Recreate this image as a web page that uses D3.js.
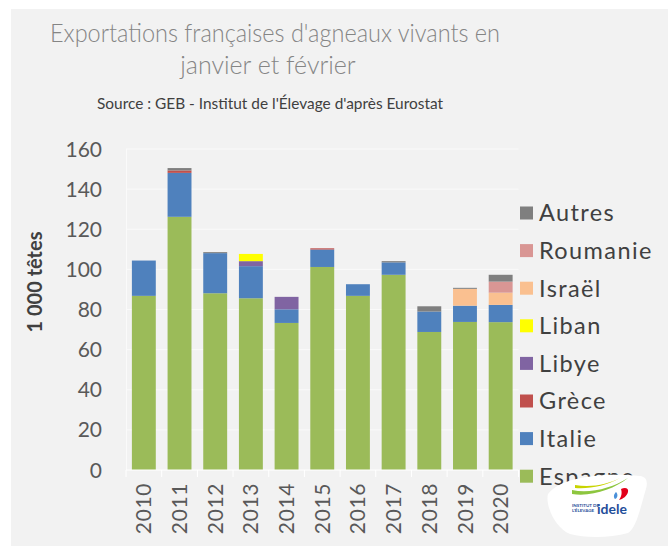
<!DOCTYPE html>
<html>
<head>
<meta charset="utf-8">
<script src="https://cdn.jsdelivr.net/npm/d3@7"></script>
<style>
  body { margin: 0; background: #fff; }
  svg { display: block; font-family: Lato, "Open Sans", sans-serif; }
</style>
</head>
<body>
<div id="chart"></div>
<script>
// values (1 000 head)
const years = ['2010', '2011', '2012', '2013', '2014', '2015', '2016', '2017', '2018', '2019', '2020'];
const espagne  = [86.8, 126.2, 88.1, 85.6, 73.3, 101.2, 86.8, 97.3, 68.8, 73.8, 73.7];
const italie   = [17.6, 21.9, 20.0, 16.0, 6.8, 8.7, 5.8, 6.2, 10.2, 8.1, 8.6];
const grece    = [0, 1.2, 0, 0, 0, 0.6, 0, 0, 0, 0, 0];
const libye    = [0, 0, 0, 2.5, 6.2, 0, 0, 0, 0, 0, 0];
const liban    = [0, 0, 0, 3.6, 0, 0, 0, 0, 0, 0, 0];
const israel   = [0, 0, 0, 0, 0, 0, 0, 0, 0, 8.4, 6.1];
const roumanie = [0, 0, 0, 0, 0, 0, 0, 0, 0, 0, 5.5];
const autres   = [0, 1.2, 0.5, 0, 0, 0, 0, 0.6, 2.6, 0.5, 3.4];

const seriesNames = ['Espagne', 'Italie', 'Grèce', 'Libye', 'Liban', 'Israël', 'Roumanie', 'Autres'];
const seriesValues = [espagne, italie, grece, libye, liban, israel, roumanie, autres];
const colors = ['#9BBB59', '#4F81BD', '#C0504D', '#8064A2', '#FFFF00', '#FAC090', '#D99694', '#7F7F7F'];
const yTicks = [0, 20, 40, 60, 80, 100, 120, 140, 160];

const width = 668, height = 547;

const svg = d3.select('#chart').append('svg')
    .attr('width', width)
    .attr('height', height);

// grey chart area
svg.append('rect')
    .attr('x', 11).attr('y', 9)
    .attr('width', width - 11).attr('height', 537)
    .attr('fill', '#F2F2F2');

// titles
svg.append('text')
    .attr('x', 275).attr('y', 42)
    .attr('text-anchor', 'middle')
    .attr('fill', '#858585')
    .attr('font-size', 25).attr('font-weight', 300)
    .attr('textLength', 450).attr('lengthAdjust', 'spacingAndGlyphs')
    .text("Exportations françaises d'agneaux vivants en");
svg.append('text')
    .attr('x', 268).attr('y', 74)
    .attr('text-anchor', 'middle')
    .attr('fill', '#858585')
    .attr('font-size', 25).attr('font-weight', 300)
    .text('janvier et février');
svg.append('text')
    .attr('x', 270).attr('y', 109)
    .attr('text-anchor', 'middle')
    .attr('fill', '#404040')
    .attr('font-size', 16)
    .attr('textLength', 346).attr('lengthAdjust', 'spacingAndGlyphs')
    .text("Source : GEB - Institut de l'Élevage d'après Eurostat");

// table for the stack
const table = years.map((yr, i) => {
    const row = { year: yr };
    seriesNames.forEach((s, j) => { row[s] = seriesValues[j][i]; });
    return row;
});

const stacked = d3.stack().keys(seriesNames)(table);

const x = d3.scaleBand()
    .domain(years)
    .range([126, 518.5])
    .paddingInner(0.33)
    .paddingOuter(0.165);

const y = d3.scaleLinear()
    .domain([0, 160])
    .range([470, 149]);

// gridlines
svg.append('g')
    .selectAll('line')
    .data(yTicks.slice(1))
    .enter()
    .append('line')
    .attr('x1', 126).attr('x2', 518.5)
    .attr('y1', d => y(d)).attr('y2', d => y(d))
    .attr('stroke', '#FAFAFA')
    .attr('stroke-width', 1);

// y axis line
svg.append('line')
    .attr('x1', 126.5).attr('x2', 126.5)
    .attr('y1', y(160)).attr('y2', y(0))
    .attr('stroke', '#FAFAFA');

// bars
svg.append('g')
    .selectAll('g')
    .data(stacked)
    .enter()
    .append('g')
    .attr('fill', (d, i) => colors[i])
    .selectAll('rect')
    .data(d => d.filter(p => p[1] - p[0] > 0))
    .enter()
    .append('rect')
    .attr('x', d => x(d.data.year))
    .attr('y', d => y(d[1]))
    .attr('width', x.bandwidth())
    .attr('height', d => y(d[0]) - y(d[1]));

// y tick labels
svg.append('g')
    .selectAll('text')
    .data(yTicks)
    .enter()
    .append('text')
    .attr('x', 102)
    .attr('y', d => y(d))
    .attr('dy', '0.36em')
    .attr('text-anchor', 'end')
    .attr('fill', '#595959')
    .attr('font-size', 21)
    .text(d => d);

// x axis
const xAxis = svg.append('g')
    .attr('transform', 'translate(0,470)');
xAxis.append('line')
    .attr('x1', 126).attr('x2', 518.5)
    .attr('stroke', '#FFFFFF');
xAxis.selectAll('line.tick')
    .data(years.concat(['end']))
    .enter()
    .append('line')
    .attr('class', 'tick')
    .attr('x1', (d, i) => i < years.length ? x(d) - x.step() * x.paddingInner() / 2 : 518.5)
    .attr('x2', (d, i) => i < years.length ? x(d) - x.step() * x.paddingInner() / 2 : 518.5)
    .attr('y1', 0).attr('y2', 7)
    .attr('stroke', '#FFFFFF');
xAxis.selectAll('text')
    .data(years)
    .enter()
    .append('text')
    .attr('transform', d => 'translate(' + (x(d) + x.bandwidth() / 2) + ',13) rotate(-90)')
    .attr('dy', '0.36em')
    .attr('text-anchor', 'end')
    .attr('fill', '#595959')
    .attr('font-size', 21)
    .attr('letter-spacing', 0.6)
    .text(d => d);

// y axis title
svg.append('text')
    .attr('transform', 'translate(35,282) rotate(-90)')
    .attr('dy', '0.36em')
    .attr('text-anchor', 'middle')
    .attr('fill', '#404040')
    .attr('font-size', 20).attr('font-weight', 'bold')
    .text('1 000 têtes');

// legend, top to bottom in reverse stack order
const legendNames = seriesNames.slice().reverse();
const legendColors = colors.slice().reverse();
const legend = svg.append('g')
    .selectAll('g')
    .data(legendNames)
    .enter()
    .append('g')
    .attr('transform', (d, i) => 'translate(520,' + (213 + i * 37.6) + ')');
legend.append('rect')
    .attr('x', 0).attr('y', -6.5)
    .attr('width', 13).attr('height', 13)
    .attr('fill', (d, i) => legendColors[i]);
legend.append('text')
    .attr('x', 19)
    .attr('dy', '0.36em')
    .attr('fill', '#404040')
    .attr('font-size', 23.5)
    .attr('letter-spacing', 1.4)
    .text(d => d);

// idele logo (rough)
const logo = svg.append('g');
logo.append('path')
    .attr('d', 'M548,494 C560,478 600,472 640,476 C648,477 648,484 645,492 C640,510 636,528 628,533 C610,538 585,538 570,534 C555,528 545,505 548,494 Z')
    .attr('fill', '#FFFFFF');
logo.append('path')
    .attr('d', 'M572,490 C590,494 612,488 628,478 C614,489 592,497 572,494 Z')
    .attr('fill', '#8DC63F');
logo.append('path')
    .attr('d', 'M575,485 C592,488 608,484 620,478 C606,486 590,489 575,488 Z')
    .attr('fill', '#C8D400');
logo.append('path')
    .attr('d', 'M621,489 C625,487 629,488 628,492 C627,496 623,499 619,500 C622,496 622,492 621,489 Z')
    .attr('fill', '#E2001A');
logo.append('path')
    .attr('d', 'M616,492 C618,494 618,498 615,499 C613,497 614,494 616,492 Z')
    .attr('fill', '#4A90D9');
logo.append('text')
    .attr('x', 572).attr('y', 507)
    .attr('fill', '#1F4E9A')
    .attr('font-size', 4.5).attr('font-weight', 'bold')
    .text('INSTITUT DE');
logo.append('text')
    .attr('x', 572).attr('y', 512)
    .attr('fill', '#1F4E9A')
    .attr('font-size', 4.5).attr('font-weight', 'bold')
    .text("L'ÉLEVAGE");
logo.append('text')
    .attr('x', 597).attr('y', 514)
    .attr('fill', '#1F4E9A')
    .attr('font-size', 14).attr('font-weight', 'bold')
    .text('idele');
</script>
</body>
</html>
